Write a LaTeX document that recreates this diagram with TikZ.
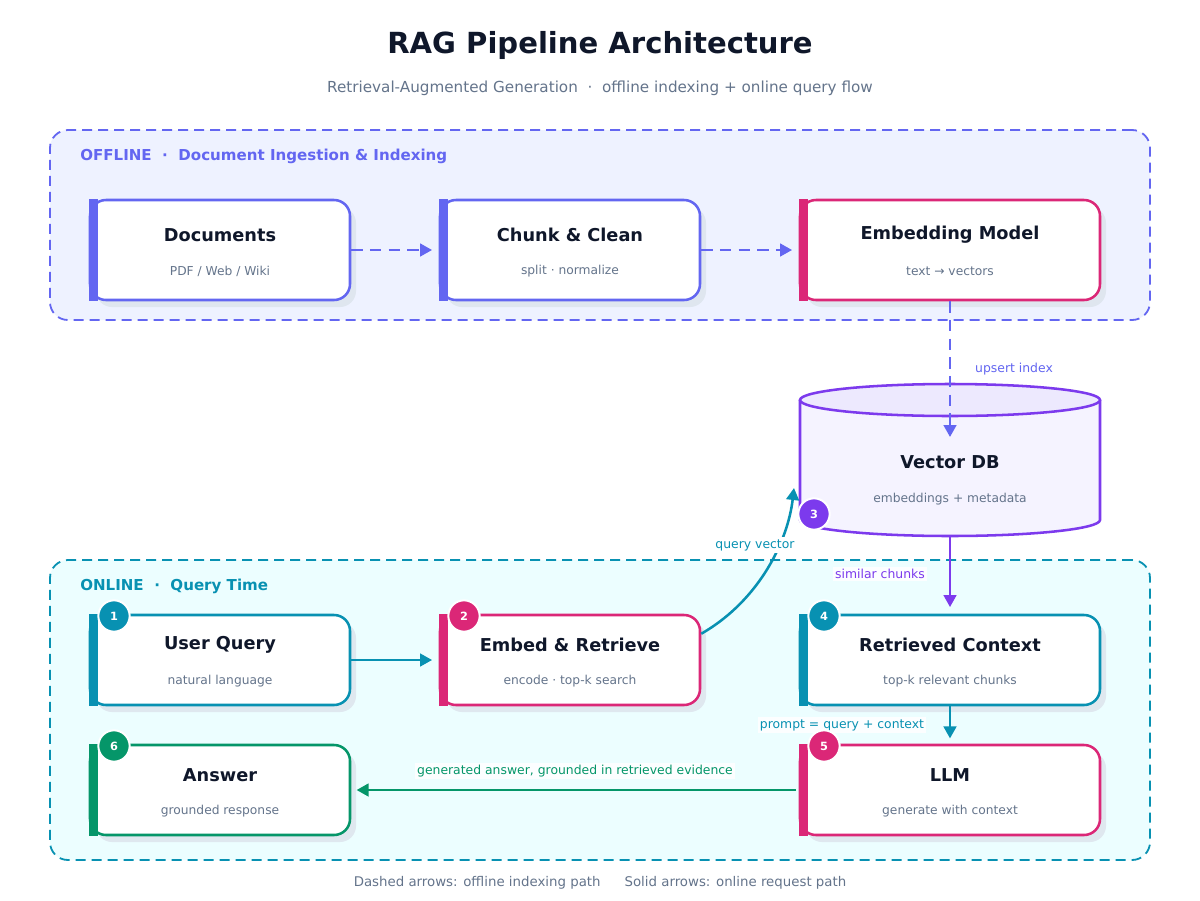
\documentclass[tikz,border=0pt]{standalone}
\usepackage{fontspec}
\setmainfont{DejaVu Sans}
\usetikzlibrary{arrows.meta,calc}

\definecolor{ink}{HTML}{0F172A}
\definecolor{muted}{HTML}{64748B}
\definecolor{indigo}{HTML}{6366F1}
\definecolor{teal}{HTML}{0891B2}
\definecolor{rose}{HTML}{DB2777}
\definecolor{violet}{HTML}{7C3AED}
\definecolor{emerald}{HTML}{059669}
\definecolor{offfill}{HTML}{EEF2FF}
\definecolor{onfill}{HTML}{ECFEFF}
\definecolor{cylbody}{HTML}{F5F3FF}
\definecolor{cyltop}{HTML}{EDE9FE}
\definecolor{shade}{HTML}{DCE3EC}

% card: shadow, rounded box, accent bar, title and caption
% #1 name, #2 cx, #3 cy, #4 width, #5 height, #6 colour, #7 title, #8 caption
\newcommand{\pipecard}[8]{%
  \node[cardshadow, minimum width=#4*0.75pt, minimum height=#5*0.75pt] (#1-sh) at (#2+6,#3+7) {};
  \node[card, draw=#6, minimum width=#4*0.75pt, minimum height=#5*0.75pt] (#1) at (#2,#3) {};
  \fill[#6] (#1.north west) rectangle ([xshift=6.75pt]#1.south west);
  \node[cardtitle] (#1-t) at (#2,#3-15) {#7};
  \node[cardsub] (#1-s) at (#2,#3+21) {#8};
}

\begin{document}
\begin{tikzpicture}[x=0.75pt,y=-0.75pt,
  zone/.style={line width=1.35pt, dash pattern=on 7.5pt off 4.5pt, rounded corners=13.5pt,
    minimum width=825pt, inner sep=0pt},
  card/.style={line width=1.9pt, fill=white, rounded corners=12pt, inner sep=0pt},
  cardshadow/.style={fill=shade, opacity=0.8, rounded corners=12pt, inner sep=0pt},
  cardtitle/.style={text=ink, font=\bfseries\fontsize{13.3pt}{15pt}\selectfont},
  cardsub/.style={text=muted, font=\fontsize{9.2pt}{11pt}\selectfont},
  badge/.style={circle, draw=white, line width=1.5pt, minimum size=23.5pt, inner sep=0pt, text=white,
    font=\bfseries\fontsize{8.5pt}{10pt}\selectfont},
  edgelabel/.style={font=\fontsize{9.3pt}{11pt}\selectfont, inner sep=1.5pt},
  offarrow/.style={draw=indigo, line width=1.9pt, dash pattern=on 8.5pt off 5.5pt,
    -{Triangle[length=9pt,width=9.5pt]}},
  onarrow/.style={line width=1.9pt, -{Triangle[length=9pt,width=9.5pt]}}
]
\useasboundingbox[fill=white] (0,0) rectangle (1200,900);

% headings
\node[text=ink, font=\bfseries\fontsize{21.8pt}{26pt}\selectfont] (title) at (600,45) {RAG Pipeline Architecture};
\node[text=muted, font=\fontsize{11.4pt}{13pt}\selectfont] (subtitle) at (600,88)
  {Retrieval-Augmented Generation \ · \ offline indexing + online query flow};

% zones
\node[zone, draw=indigo, fill=offfill, minimum height=142.5pt] (offline) at (600,225) {};
\node[zone, draw=teal, fill=onfill, minimum height=225pt] (online) at (600,710) {};
\node[anchor=west, inner sep=0pt, text=indigo, font=\bfseries\fontsize{11.3pt}{13pt}\selectfont] (offlabel) at (80,156)
  {OFFLINE \ · \ Document Ingestion \& Indexing};
\node[anchor=west, inner sep=0pt, text=teal, font=\bfseries\fontsize{11.3pt}{13pt}\selectfont] (onlabel) at (80,586)
  {ONLINE \ · \ Query Time};

% offline cards
\pipecard{docs}{220}{250}{260}{100}{indigo}{Documents}{PDF / Web / Wiki}
\pipecard{chunk}{570}{250}{260}{100}{indigo}{Chunk \& Clean}{split · normalize}
\pipecard{emb}{950}{250}{300}{100}{rose}{Embedding Model}{text → vectors}

% vector store cylinder
\node[minimum width=225pt, minimum height=114pt, inner sep=0pt] (vdb) at (950,460) {};
\fill[cylbody] (800,400) -- (800,520) arc[start angle=180, end angle=0, x radius=150, y radius=16]
  -- (1100,400) arc[start angle=0, end angle=-180, x radius=150, y radius=16] -- cycle;
\draw[violet, line width=1.9pt] (800,400) -- (800,520) arc[start angle=180, end angle=0, x radius=150, y radius=16] -- (1100,400);
\filldraw[fill=cyltop, draw=violet, line width=1.9pt] (950,400) ellipse[x radius=150, y radius=16];
\node[cardtitle] (vdb-t) at (950,462) {Vector DB};
\node[cardsub] (vdb-s) at (950,499) {embeddings + metadata};
\coordinate (vdbin) at (950,437);
\coordinate (vdbq) at (794,488);

% online cards
\pipecard{uq}{220}{660}{260}{90}{teal}{User Query}{natural language}
\pipecard{eret}{570}{660}{260}{90}{rose}{Embed \& Retrieve}{encode · top-k search}
\pipecard{rc}{950}{660}{300}{90}{teal}{Retrieved Context}{top-k relevant chunks}
\pipecard{llm}{950}{790}{300}{90}{rose}{LLM}{generate with context}
\pipecard{ans}{220}{790}{260}{90}{emerald}{Answer}{grounded response}

% connectors
\draw[offarrow] (docs.east) -- ([xshift=-5pt]chunk.west);
\draw[offarrow] (chunk.east) -- ([xshift=-5pt]emb.west);
\draw[offarrow] (emb.south) -- (vdbin);
\node[edgelabel, text=indigo, fill=white] (lupsert) at (1014,369) {upsert index};

\draw[onarrow, teal] ([yshift=-15pt]eret.north east) .. controls (760,600) and (788,540) .. (vdbq);
\draw[onarrow, teal] (uq.east) -- ([xshift=-5pt]eret.west);
\node[edgelabel, text=teal, fill=white] (lquery) at (755,545) {query vector};

\draw[onarrow, violet] (vdb.south) -- ([yshift=5pt]rc.north);
\node[edgelabel, text=violet, fill=white, fill opacity=0.85, text opacity=1] (lsim) at (880,574) {similar chunks};

\draw[onarrow, teal] (rc.south) -- ([yshift=4pt]llm.north);
\node[edgelabel, text=teal, fill=white, fill opacity=0.85, text opacity=1] (lprompt) at (842,725) {prompt = query + context};

\draw[onarrow, emerald] ([xshift=-2pt]llm.west) -- ([xshift=4pt]ans.east);
\node[edgelabel, text=emerald, fill=white, fill opacity=0.85, text opacity=1] (lgen) at (575,771)
  {generated answer, grounded in retrieved evidence};

% step badges
\node[badge, fill=teal] (b1) at (114,616) {1};
\node[badge, fill=rose] (b2) at (464,616) {2};
\node[badge, fill=violet] (b3) at (814,514) {3};
\node[badge, fill=teal] (b4) at (824,616) {4};
\node[badge, fill=rose] (b5) at (824,746) {5};
\node[badge, fill=emerald] (b6) at (114,746) {6};

% legend
\node[text=muted, font=\fontsize{10pt}{12pt}\selectfont] (legend) at (600,883)
  {Dashed arrows: offline indexing path\hspace{18pt}Solid arrows: online request path};
\end{tikzpicture}
\end{document}
